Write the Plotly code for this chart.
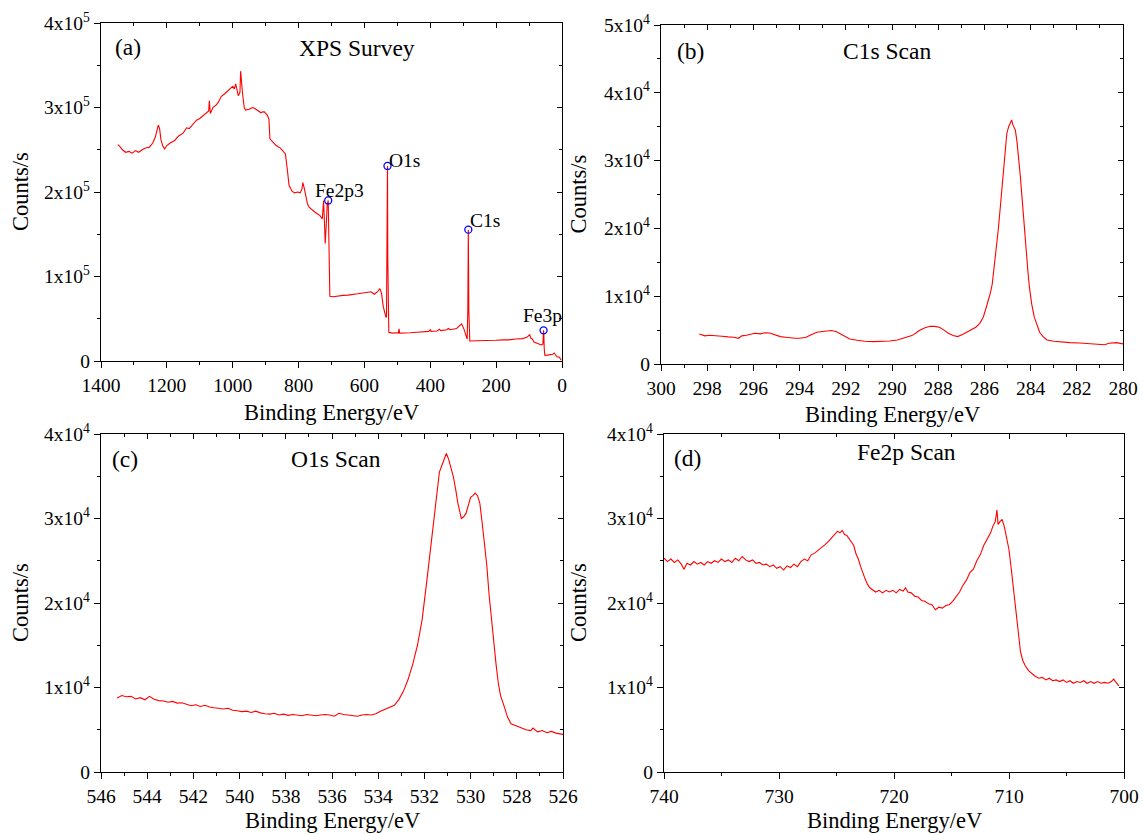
import plotly.graph_objects as go

# ---------------- data ----------------
survey_E = [1349, 1343, 1335, 1325, 1315, 1305, 1295, 1286, 1275, 1265, 1253, 1243, 1235, 1230,
            1226, 1222, 1218, 1212, 1207, 1200, 1190, 1176, 1165, 1150, 1140, 1132, 1120, 1110,
            1100, 1088, 1080, 1073, 1071, 1068, 1060, 1050, 1044, 1035, 1025, 1015, 1005, 1000,
            995, 991, 983, 978, 976, 973, 970, 965, 961, 950, 940, 934, 925, 915, 905, 895, 890,
            887, 880, 868, 855, 845, 840, 834, 829, 820, 812, 803, 795, 790, 787, 783, 779, 773,
            768, 760, 750, 742, 735, 728, 726, 724, 722, 719, 716, 713, 710, 708, 705, 695, 680,
            665, 650, 635, 620, 605, 592, 580, 570, 560, 553, 548, 543, 538, 535, 533, 531, 530,
            529, 527, 526, 515, 505, 497, 495, 493, 480, 460, 440, 420, 405, 400, 398, 380, 372,
            368, 350, 345, 340, 320, 305, 298, 291, 288, 286, 284.5, 283, 282, 280, 260, 240, 220,
            200, 180, 162, 140, 120, 107, 100, 98, 95, 90, 85, 75, 63, 58, 57, 56, 55, 54, 52, 45,
            35, 28, 24, 20, 15, 8, 2]
survey_C = [256000, 254000, 250000, 247000, 248000, 246000, 249000, 247000, 250000, 252000,
            253000, 258000, 265000, 272000, 279000, 275000, 262000, 254000, 251000, 255000,
            258000, 261000, 266000, 270000, 276000, 275000, 281000, 285000, 287000, 291000,
            293000, 296000, 308000, 293000, 300000, 303000, 306000, 313000, 316000, 320000,
            323000, 325000, 322000, 328000, 314000, 318000, 343000, 325000, 316000, 300000,
            297000, 298000, 300000, 299000, 297000, 294000, 295000, 291000, 286000, 263000,
            260000, 255000, 252000, 248000, 245000, 226000, 208000, 201000, 199000, 200000,
            199000, 203000, 211000, 205000, 196000, 186000, 182000, 179000, 176000, 174000,
            172000, 168000, 180000, 190000, 170000, 139000, 160000, 185000, 190000, 150000,
            76500, 76000, 77000, 77700, 78000, 78500, 79500, 80500, 81700, 82000, 79000, 82000,
            85600, 80000, 65000, 55000, 52000, 52000, 150000, 230800, 120000, 40000, 34000,
            33000, 33500, 33000, 38000, 33000, 33000, 33500, 34000, 34500, 35000, 37000, 35000,
            35500, 37500, 36000, 37000, 38500, 37000, 38500, 44000, 38000, 28000, 26000, 60000,
            155400, 60000, 24000, 23700, 24000, 24000, 24500, 24500, 25000, 25000, 26000, 26500,
            28000, 30000, 31000, 27000, 26000, 22500, 21000, 19000, 20000, 30000, 36300, 30000,
            15000, 6700, 7000, 7500, 8000, 9500, 7000, 5000, 4500, 800]

peak_names = ["Fe2p3", "O1s", "C1s", "Fe3p"]
peak_E = [710, 530, 284.5, 56]
peak_C = [190000, 230800, 155400, 36300]

c1s_E = [298.34, 298.1, 297.9, 297.6, 297.36, 297.1, 296.85, 296.65, 296.5, 296.3, 296.1, 295.94,
         295.7, 295.5, 295.3, 295.1, 294.83, 294.6, 294.4, 294.2, 294.0, 293.72, 293.5, 293.25,
         293.0, 292.8, 292.62, 292.4, 292.22, 292.0, 291.83, 291.5, 291.19, 290.8, 290.4, 290.1,
         289.77, 289.45, 289.14, 288.95, 288.82, 288.6, 288.35, 288.15, 287.95, 287.75, 287.56,
         287.35, 287.16, 286.95, 286.77, 286.55, 286.37, 286.2, 286.05, 285.95, 285.82, 285.74,
         285.66, 285.58, 285.50, 285.40, 285.31, 285.23, 285.15, 285.08, 285.03, 284.95, 284.88,
         284.82, 284.77, 284.72, 284.66, 284.59, 284.52, 284.44, 284.36, 284.28, 284.20, 284.12,
         284.05, 283.95, 283.84, 283.72, 283.61, 283.45, 283.29, 283.0, 282.66, 282.3, 281.87,
         281.5, 281.08, 280.8, 280.60, 280.4, 280.28, 280.0]
c1s_C = [4430, 4150, 4250, 4100, 4090, 4000, 3950, 3790, 4150, 4250, 4400, 4530, 4450, 4600, 4580,
         4300, 4040, 3950, 3850, 3790, 3800, 3940, 4300, 4680, 4800, 4900, 4930, 4750, 4430, 4000,
         3690, 3500, 3350, 3300, 3300, 3400, 3550, 3850, 4190, 4600, 4930, 5300, 5570, 5550, 5420,
         5000, 4530, 4200, 4040, 4350, 4680, 5100, 5420, 6000, 6900, 8000, 9360, 10500, 11800,
         14000, 16300, 19800, 23200, 26300, 29100, 32000, 34000, 35000, 35500, 36000, 35300,
         34800, 34500, 32800, 30500, 27500, 24100, 20300, 16700, 13800, 11300, 8800, 6900, 5600,
         4680, 4000, 3550, 3350, 3200, 3150, 3100, 3050, 2960, 2850, 3050, 3100, 3150, 2960]

o1s_E = [545.3, 545.1, 544.9, 544.7, 544.5, 544.3, 544.1, 543.9, 543.7, 543.5, 543.3, 543.1, 542.9,
         542.7, 542.5, 542.3, 542.1, 541.9, 541.7, 541.5, 541.3, 541.1, 540.9, 540.7, 540.5,
         540.3, 540.1, 539.9, 539.7, 539.5, 539.3, 539.1, 538.9, 538.7, 538.5, 538.3, 538.1,
         537.9, 537.7, 537.5, 537.3, 537.1, 536.9, 536.7, 536.5, 536.3, 536.1, 535.9, 535.7,
         535.5, 535.3, 535.1, 534.9, 534.7, 534.5, 534.3, 534.1, 533.9, 533.7, 533.5, 533.3,
         533.1, 532.9, 532.7, 532.5, 532.3, 532.1, 531.9, 531.7, 531.5, 531.35, 531.2, 531.05,
         530.95, 530.85, 530.75, 530.65, 530.55, 530.4, 530.3, 530.2, 530.1, 530.0, 529.9, 529.8,
         529.7, 529.6, 529.5, 529.4, 529.3, 529.2, 529.1, 529.0, 528.9, 528.8, 528.7, 528.55,
         528.4, 528.25, 528.0, 527.8, 527.6, 527.4, 527.3, 527.1, 526.9, 526.7, 526.5, 526.3,
         526.1, 526.0]
o1s_C = [8750, 9050, 8900, 8950, 8650, 8800, 8550, 8950, 8600, 8450, 8400, 8250, 8350, 8150, 8200,
         8000, 7850, 7950, 7750, 7900, 7700, 7600, 7500, 7450, 7550, 7300, 7250, 7150, 7200, 7050,
         7200, 7000, 6900, 6850, 6950, 6750, 6850, 6700, 6800, 6750, 6650, 6800, 6700, 6650, 6750,
         6800, 6750, 6600, 6950, 6800, 6750, 6700, 6600, 6750, 6800, 6750, 6900, 7200, 7450, 7700,
         7900, 8600, 9600, 11000, 12800, 15000, 18000, 22500, 27500, 32000, 35500, 36600, 37700,
         37000, 35900, 35000, 33500, 31800, 30000, 30200, 30600, 31500, 32500, 32700, 33000,
         32700, 31800, 29500, 27000, 24500, 21000, 18000, 15500, 12800, 10500, 9000, 7800, 6500,
         5700, 5400, 5200, 5000, 4900, 5200, 4750, 4900, 4650, 4800, 4600, 4500, 4450]

fe2p_E = [740, 739.7, 739.4, 739.1, 738.8, 738.5, 738.26, 738.0, 737.7, 737.4, 737.1, 736.8,
          736.5, 736.2, 735.9, 735.6, 735.3, 735.0, 734.7, 734.4, 734.1, 733.8, 733.5, 733.2,
          732.9, 732.6, 732.3, 732.0, 731.7, 731.4, 731.1, 730.8, 730.5, 730.2, 729.9, 729.6,
          729.3, 729.0, 728.7, 728.4, 728.1, 727.8, 727.5, 727.2, 726.9, 726.6, 726.3, 726.0,
          725.7, 725.4, 725.1, 724.9, 724.7, 724.5, 724.3, 724.1, 723.9, 723.7, 723.5, 723.3,
          723.1, 722.9, 722.7, 722.5, 722.3, 722.1, 721.9, 721.6, 721.3, 721.0, 720.7, 720.4,
          720.1, 719.8, 719.5, 719.2, 719.0, 718.8, 718.5, 718.2, 717.9, 717.6, 717.3, 717.0,
          716.7, 716.4, 716.1, 715.8, 715.5, 715.2, 714.9, 714.6, 714.3, 714.0, 713.7, 713.4,
          713.1, 712.8, 712.5, 712.2, 711.9, 711.6, 711.4, 711.2, 711.05, 710.95, 710.8, 710.6,
          710.4, 710.2, 710.0, 709.8, 709.6, 709.4, 709.2, 709.0, 708.8, 708.6, 708.3, 708.0,
          707.7, 707.4, 707.1, 706.8, 706.5, 706.2, 705.9, 705.6, 705.3, 705.0, 704.7, 704.4,
          704.1, 703.8, 703.5, 703.2, 702.9, 702.6, 702.3, 702.0, 701.7, 701.4, 701.1, 700.9,
          700.7, 700.45]
fe2p_C = [25300, 24900, 25200, 24800, 25100, 24600, 24000, 24700, 24500, 24900, 24600, 24800,
          24500, 24900, 24700, 25000, 24800, 25200, 24900, 25100, 24800, 25300, 25000, 25500,
          25100, 24900, 25100, 24700, 24800, 24500, 24600, 24300, 24500, 24100, 24300, 23900,
          24400, 24200, 24600, 24300, 24900, 25200, 25000, 25700, 25900, 26200, 26600, 26900,
          27300, 27700, 28200, 28500, 28300, 28600, 28100, 28000, 27600, 27200, 26800, 25800,
          25200, 24300, 23500, 22800, 22200, 21800, 21600, 21300, 21500, 21200, 21500, 21300,
          21500, 21200, 21600, 21400, 21800, 21300, 21200, 20800, 20700, 20300, 20200, 19900,
          19800, 19200, 19500, 19400, 19700, 19800, 20200, 20700, 21300, 22100, 22700, 23600,
          24000, 25000, 25700, 26800, 27600, 28300, 29100, 29600, 31000, 29300, 29600, 29900,
          29000, 27600, 26300, 24000, 21500, 18600, 16000, 14200, 13200, 12600, 12000, 11600,
          11300, 11100, 11200, 10900, 11100, 10800, 10900, 10700, 10900, 10600, 10800, 10500,
          10700, 10600, 10800, 10500, 10700, 10500, 10700, 10500, 10600, 10500, 10700, 11000,
          10600, 10200]

panel_labels = ["(a)", "(b)", "(c)", "(d)"]
panel_titles = ["XPS Survey", "C1s Scan", "O1s Scan", "Fe2p Scan"]
x_title = "Binding Energy/eV"
y_title = "Counts/s"

# ---------------- layout geometry ----------------
W, H = 1142, 834
FONT = "Liberation Serif"
RED = "#ff0000"
TICK_SIZE = 19.5
TITLE_SIZE = 22.5
PANEL_SIZE = 23.5
PEAK_SIZE = 19.5


def fx(px):
    return px / W


def fy(py):
    return 1 - py / H


panels = [
    dict(xd=(101, 562), yd=(23, 361), xr=[1400, 0], dt=200, mdt=100, ymax=4e5, ystep=1e5, exp=5,
         xt_y=412),
    dict(xd=(661, 1123), yd=(25, 364), xr=[300, 280], dt=2, mdt=1, ymax=5e4, ystep=1e4, exp=4,
         xt_y=414),
    dict(xd=(101, 563), yd=(434, 772), xr=[546, 526], dt=2, mdt=1, ymax=4e4, ystep=1e4, exp=4,
         xt_y=820),
    dict(xd=(664, 1124), yd=(434, 772), xr=[740, 700], dt=10, mdt=5, ymax=4e4, ystep=1e4, exp=4,
         xt_y=820),
]

data_sets = [(survey_E, survey_C), (c1s_E, c1s_C), (o1s_E, o1s_C), (fe2p_E, fe2p_C)]

fig = go.Figure()
layout = dict(width=W, height=H, autosize=False,
              margin=dict(l=0, r=0, t=0, b=0, pad=0, autoexpand=False),
              paper_bgcolor="white", plot_bgcolor="white", showlegend=False,
              font=dict(family=FONT, size=TICK_SIZE, color="black"))
annotations = []

for i, p in enumerate(panels):
    n = i + 1
    k = n + 4  # overlay axes index
    xs = "" if n == 1 else str(n)
    xd = [fx(p["xd"][0]), fx(p["xd"][1])]
    yd = [fy(p["yd"][1]), fy(p["yd"][0])]
    nt = int(round(p["ymax"] / p["ystep"]))
    yvals = [j * p["ystep"] for j in range(nt + 1)]
    ytext = ["0"] + ["%dx10<sup>%d</sup>" % (j, p["exp"]) for j in range(1, nt + 1)]

    common = dict(showline=True, linecolor="black", linewidth=1.3, showgrid=False,
                  zeroline=False, automargin=False)
    layout["xaxis" + xs] = dict(domain=xd, anchor="y" + xs, range=p["xr"], tickmode="linear",
                                tick0=0, dtick=p["dt"], ticks="outside", ticklen=6,
                                tickwidth=1.2, tickcolor="black",
                                minor=dict(tickmode="linear", tick0=0, dtick=p["mdt"],
                                           ticks="outside", ticklen=3, tickcolor="black"),
                                tickfont=dict(family=FONT, size=TICK_SIZE), **common)
    layout["yaxis" + xs] = dict(domain=yd, anchor="x" + xs, range=[0, p["ymax"]],
                                tickmode="array", tickvals=yvals, ticktext=ytext,
                                ticks="outside", ticklen=6, tickwidth=1.2, tickcolor="black",
                                minor=dict(tickmode="linear", tick0=0, dtick=p["ystep"] / 2,
                                           ticks="outside", ticklen=3, tickcolor="black"),
                                tickfont=dict(family=FONT, size=TICK_SIZE), **common)
    layout["xaxis%d" % k] = dict(overlaying="x" + xs, side="top", anchor="y" + xs,
                                 range=p["xr"], tickmode="linear", tick0=0, dtick=p["dt"],
                                 ticks="inside", ticklen=5, tickwidth=1.2, tickcolor="black",
                                 minor=dict(tickmode="linear", tick0=0, dtick=p["mdt"],
                                            ticks="inside", ticklen=3, tickcolor="black"),
                                 showticklabels=False, **common)
    layout["yaxis%d" % k] = dict(overlaying="y" + xs, side="right", anchor="x" + xs,
                                 range=[0, p["ymax"]], tickmode="array", tickvals=yvals,
                                 ticks="inside", ticklen=5, tickwidth=1.2, tickcolor="black",
                                 minor=dict(tickmode="linear", tick0=0, dtick=p["ystep"] / 2,
                                            ticks="inside", ticklen=3, tickcolor="black"),
                                 showticklabels=False, **common)

    E, C = data_sets[i]
    fig.add_trace(go.Scatter(x=E, y=C, mode="lines", line=dict(color=RED, width=1.1),
                             xaxis="x" + xs, yaxis="y" + xs, hoverinfo="skip"))
    fig.add_trace(go.Scatter(x=[p["xr"][0]], y=[-1e9], mode="markers", marker=dict(opacity=0),
                             xaxis="x%d" % k, yaxis="y%d" % k, hoverinfo="skip"))

    cx = (p["xd"][0] + p["xd"][1]) / 2
    annotations.append(dict(text=x_title, xref="paper", yref="paper", x=fx(cx),
                            y=fy(p["xt_y"]), xanchor="center", yanchor="middle",
                            showarrow=False, font=dict(family=FONT, size=TITLE_SIZE)))
    ytx = 20 if p["xd"][0] < 300 else 578
    annotations.append(dict(text=y_title, xref="paper", yref="paper", x=fx(ytx),
                            y=fy((p["yd"][0] + p["yd"][1]) / 2), xanchor="center",
                            yanchor="middle", textangle=-90, showarrow=False,
                            font=dict(family=FONT, size=TITLE_SIZE)))

label_pos = [(128, 47), (690, 51), (125, 459), (688, 458)]
title_pos = [(357, 48), (887, 51), (336, 459), (906, 452)]
for i in range(4):
    lx, ly = label_pos[i]
    annotations.append(dict(text=panel_labels[i], xref="paper", yref="paper", x=fx(lx),
                            y=fy(ly), xanchor="center", yanchor="middle", showarrow=False,
                            font=dict(family=FONT, size=PANEL_SIZE)))
    tx, ty = title_pos[i]
    annotations.append(dict(text=panel_titles[i], xref="paper", yref="paper", x=fx(tx), y=fy(ty),
                            xanchor="center", yanchor="middle", showarrow=False,
                            font=dict(family=FONT, size=PANEL_SIZE)))

fig.add_trace(go.Scatter(x=peak_E, y=peak_C, mode="markers",
                         marker=dict(symbol="circle-open", color="blue", size=7,
                                     line=dict(width=1.3, color="blue")),
                         xaxis="x", yaxis="y", hoverinfo="skip"))
label_offsets = [(11, 10), (0, 5), (0, 9), (-1, 15)]
label_anchor = ["center", "left", "left", "center"]
for nm, e, c, (dx, dy), xa in zip(peak_names, peak_E, peak_C, label_offsets, label_anchor):
    annotations.append(dict(text=nm, x=e, y=c, xref="x", yref="y", xanchor=xa,
                            yanchor="middle", xshift=dx, yshift=dy, showarrow=False,
                            font=dict(family=FONT, size=PEAK_SIZE)))

layout["annotations"] = annotations
fig.update_layout(**layout)
fig.write_html("out.html")
